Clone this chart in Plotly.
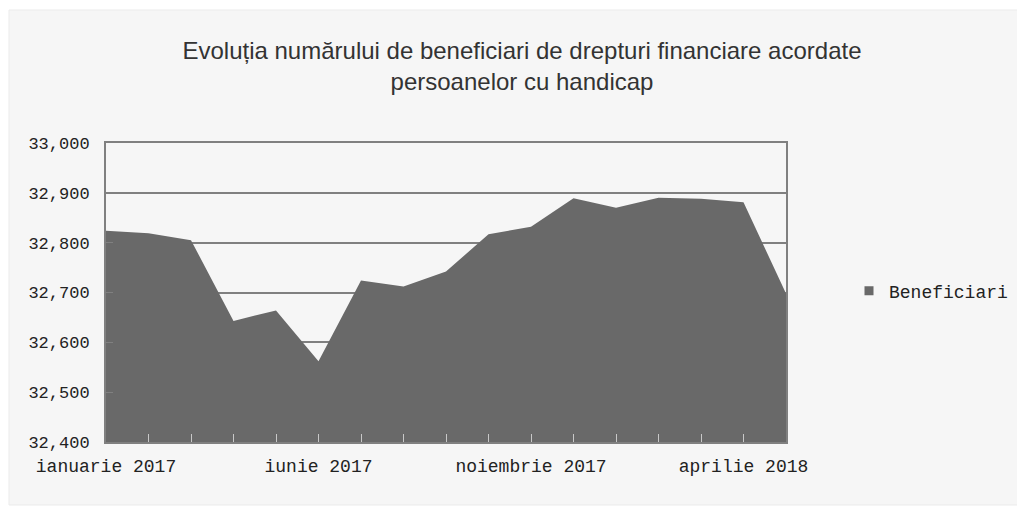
import plotly.graph_objects as go

months = ["ianuarie 2017", "februarie 2017", "martie 2017", "aprilie 2017", "mai 2017",
          "iunie 2017", "iulie 2017", "august 2017", "septembrie 2017", "octombrie 2017",
          "noiembrie 2017", "decembrie 2017", "ianuarie 2018", "februarie 2018",
          "martie 2018", "aprilie 2018", "mai 2018"]
beneficiari = [32824, 32819, 32805, 32643, 32664, 32562, 32724, 32712, 32742, 32817,
               32832, 32889, 32870, 32890, 32888, 32881, 32698]
shown_labels = ["ianuarie 2017", "", "", "", "", "iunie 2017", "", "", "", "",
                "noiembrie 2017", "", "", "", "", "aprilie 2018", ""]
y_ticks = [32400, 32500, 32600, 32700, 32800, 32900, 33000]

title_text = ("Evoluția numărului de beneficiari de drepturi financiare acordate"
              "<br>persoanelor cu handicap")

# page offset from default body margin
O = 8
W, H = 1025 - O, 507 - O
L, R, T, B = 106 - O, 786 - O, 143 - O, 442 - O


def px(x):
    return (x - O - L) / (R - L)


def py(y):
    return (B - (y - O)) / (B - T)


fig = go.Figure()
fig.add_trace(go.Scatter(
    x=months, y=beneficiari, name="Beneficiari", mode="none",
    fill="tozeroy", fillcolor="#696969", showlegend=False,
))
fig.add_trace(go.Scatter(
    x=[None], y=[None], name="Beneficiari", mode="markers",
    marker=dict(symbol="square", size=9, color="#696969"), showlegend=True,
))

mono = "Liberation Mono, DejaVu Sans Mono, monospace"

fig.update_layout(
    width=W, height=H,
    margin=dict(l=L, r=W - R, t=T, b=H - B),
    paper_bgcolor="white", plot_bgcolor="white",
    title=dict(text=title_text, x=(522 - O) / W, xanchor="center",
               y=1 - (59 - O) / H, yanchor="middle",
               font=dict(family="Liberation Sans, Arial, sans-serif", size=24, color="#333333")),
    showlegend=True,
    legend=dict(x=px(849), y=py(291), xanchor="left", yanchor="middle",
                font=dict(family=mono, size=18, color="#222222"),
                bgcolor="rgba(0,0,0,0)", itemwidth=30),
    xaxis=dict(type="category", range=[0, 16], tickmode="array", tickvals=months,
               ticktext=shown_labels, ticks="inside", ticklen=8, tickcolor="#c8c8c8",
               tickwidth=1, showgrid=False, showline=True, linecolor="#808080", linewidth=2,
               mirror=True, tickfont=dict(family=mono, size=18, color="#222222"),
               tickangle=0, ticklabelstandoff=6),
    yaxis=dict(range=[32400, 33000], tickmode="array", tickvals=y_ticks, tickformat=",d",
               ticks="inside", ticklen=7, tickcolor="#808080", showgrid=True,
               gridcolor="#808080", gridwidth=2, showline=True, linecolor="#808080",
               linewidth=2, mirror=True, zeroline=False, ticklabelstandoff=11,
               tickfont=dict(family=mono, size=17, color="#222222")),
    shapes=[dict(type="rect", xref="paper", yref="paper", layer="below",
                 x0=px(9), x1=px(1023), y0=py(505), y1=py(10),
                 fillcolor="#f6f6f6", line=dict(color="#ebebeb", width=1))],
)

fig.write_html("out.html")
